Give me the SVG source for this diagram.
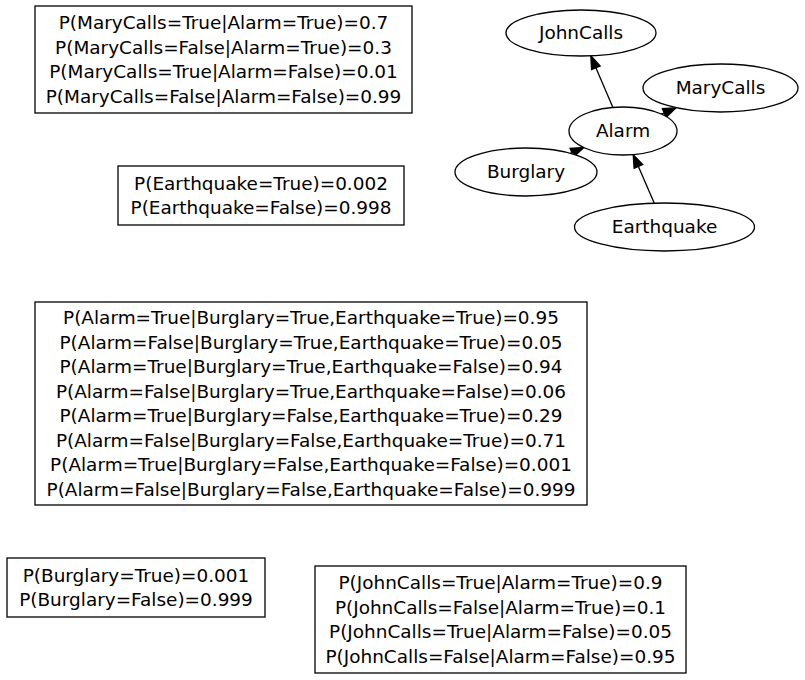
<svg xmlns="http://www.w3.org/2000/svg" width="805" height="680" viewBox="0 0 805 680">
<style>
  .bg { fill: #ffffff; }
  .box { fill: #ffffff; stroke: #000000; stroke-width: 1.3; }
  .node { fill: #ffffff; stroke: #000000; stroke-width: 1.3; }
  text { font-family: "DejaVu Sans", "Liberation Sans", sans-serif; font-size: 18.45px; fill: #000000; text-anchor: middle; }
  .edge { stroke: #000000; stroke-width: 1.3; fill: none; }
  .head { fill: #000000; stroke: #000000; stroke-width: 1.3; }
</style>
<rect class="bg" x="0" y="0" width="805" height="680"/>

<g id="cpt_marycalls">
  <rect class="box" x="35" y="6" width="377" height="107"/>
  <text x="223.5" y="29">P(MaryCalls=True|Alarm=True)=0.7</text>
  <text x="223.5" y="53.5">P(MaryCalls=False|Alarm=True)=0.3</text>
  <text x="223.5" y="78">P(MaryCalls=True|Alarm=False)=0.01</text>
  <text x="223.5" y="102.5">P(MaryCalls=False|Alarm=False)=0.99</text>
</g>

<g id="cpt_earthquake">
  <rect class="box" x="118" y="166" width="286" height="59"/>
  <text x="261" y="189.5">P(Earthquake=True)=0.002</text>
  <text x="261" y="214">P(Earthquake=False)=0.998</text>
</g>

<g id="cpt_alarm">
  <rect class="box" x="35" y="302" width="552" height="203"/>
  <text x="311" y="324">P(Alarm=True|Burglary=True,Earthquake=True)=0.95</text>
  <text x="311" y="348.5">P(Alarm=False|Burglary=True,Earthquake=True)=0.05</text>
  <text x="311" y="373">P(Alarm=True|Burglary=True,Earthquake=False)=0.94</text>
  <text x="311" y="397.5">P(Alarm=False|Burglary=True,Earthquake=False)=0.06</text>
  <text x="311" y="422">P(Alarm=True|Burglary=False,Earthquake=True)=0.29</text>
  <text x="311" y="446.5">P(Alarm=False|Burglary=False,Earthquake=True)=0.71</text>
  <text x="311" y="471">P(Alarm=True|Burglary=False,Earthquake=False)=0.001</text>
  <text x="311" y="495.5">P(Alarm=False|Burglary=False,Earthquake=False)=0.999</text>
</g>

<g id="cpt_burglary">
  <rect class="box" x="7" y="558" width="258" height="59"/>
  <text x="136" y="581.5">P(Burglary=True)=0.001</text>
  <text x="136" y="606">P(Burglary=False)=0.999</text>
</g>

<g id="cpt_johncalls">
  <rect class="box" x="315" y="566" width="371" height="107"/>
  <text x="500.5" y="589">P(JohnCalls=True|Alarm=True)=0.9</text>
  <text x="500.5" y="613.5">P(JohnCalls=False|Alarm=True)=0.1</text>
  <text x="500.5" y="638">P(JohnCalls=True|Alarm=False)=0.05</text>
  <text x="500.5" y="662.5">P(JohnCalls=False|Alarm=False)=0.95</text>
</g>

<g id="connectors">
  <line class="edge" x1="612.9" y1="107.4" x2="595.9" y2="67.7"/>
  <polygon class="head" points="590.8,55.8 600.2,65.9 591.6,69.6"/>
  <line class="edge" x1="661.2" y1="114.1" x2="664.2" y2="113"/>
  <polygon class="head" points="676.1,107.7 666.1,117.3 662.3,108.7"/>
  <line class="edge" x1="570.4" y1="153.3" x2="571.9" y2="152.6"/>
  <polygon class="head" points="583.9,147.5 573.7,156.9 570.1,148.3"/>
  <line class="edge" x1="654.2" y1="203.1" x2="638.4" y2="166.5"/>
  <polygon class="head" points="633.2,154.6 642.7,164.6 634.1,168.4"/>
</g>

<g id="node_johncalls">
  <ellipse class="node" cx="581" cy="33" rx="75" ry="23"/>
  <text x="581" y="39">JohnCalls</text>
</g>
<g id="node_marycalls">
  <ellipse class="node" cx="720.5" cy="88" rx="77.5" ry="24"/>
  <text x="720.5" y="94">MaryCalls</text>
</g>
<g id="node_alarm">
  <ellipse class="node" cx="623" cy="131" rx="54" ry="24"/>
  <text x="623" y="136.5">Alarm</text>
</g>
<g id="node_burglary">
  <ellipse class="node" cx="526" cy="172" rx="71" ry="24"/>
  <text x="526" y="177.5">Burglary</text>
</g>
<g id="node_earthquake">
  <ellipse class="node" cx="664.5" cy="227" rx="90" ry="24"/>
  <text x="664.5" y="233">Earthquake</text>
</g>
</svg>
